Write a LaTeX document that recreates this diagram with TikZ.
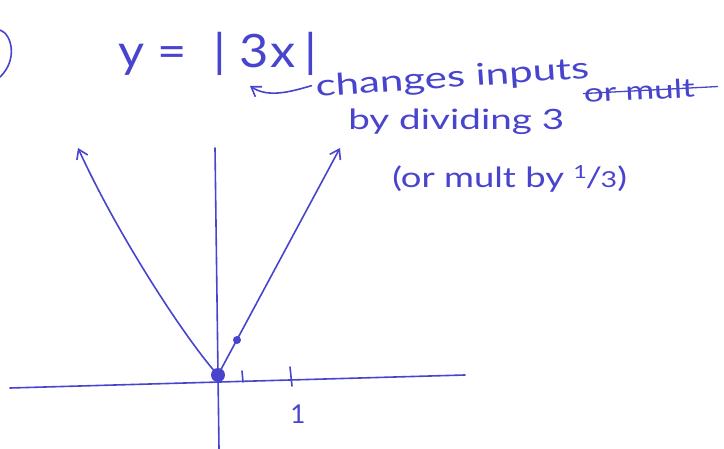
\documentclass[tikz,border=0pt]{standalone}
\usepackage{fontspec}
\setmainfont{Lato}
\usetikzlibrary{arrows.meta}
\definecolor{ink}{RGB}{72,68,205}
\begin{document}
\begin{tikzpicture}[x=1pt,y=-1pt,
  pen/.style={draw=ink,line width=1.6pt,line cap=round,line join=round},
  hand/.style={text=ink,inner sep=0pt,anchor=base west},
  tip/.style={-{Straight Barb[length=9pt,width=12pt,line width=1.6pt]}}]
\useasboundingbox (0,0) rectangle (724,449);
% circled number (cut off)
\draw[pen] (0,30) .. controls (12,34) and (18,60) .. (0,77);
% equation
\node[hand,font=\fontsize{46}{46}\selectfont,xscale=1.1] (eq) at (118,68)
  {y\hspace{12pt}=\hspace{24pt}|\hspace{12pt}3\hspace{2pt}x\hspace{8pt}|};
% annotation
\node[hand,font=\fontsize{30}{30}\selectfont,rotate=4,xscale=1.4] (t1) at (316,97) {changes inputs};
\node[hand,font=\fontsize{28}{28}\selectfont,xscale=1.38] (t2) at (348,130) {by dividing 3};
\node[hand,font=\fontsize{26}{26}\selectfont,rotate=3,xscale=1.35] (t3) at (584,103) {or mult};
\draw[pen,line width=1.3pt] (t3.west) -- ++(134,-7);
\node[hand,font=\fontsize{28}{28}\selectfont,xscale=1.3] (t4) at (392,188)
  {(or mult by {\fontsize{18}{18}\selectfont\raisebox{9pt}{1}}\kern-1pt/\kern-1pt{\fontsize{22}{22}\selectfont 3})};
\coordinate (ah) at (250,86);
\draw[pen,tip] (t1.west) ++(-4,-3) .. controls (290,92) and (268,98) .. (ah);
% axes
\coordinate (o) at (218,375);
\coordinate (xl) at (10,388);
\coordinate (xr) at (465,375);
\coordinate (yt) at (215,148);
\coordinate (yb) at (219,449);
\draw[pen] (xl) -- (xr);
\draw[pen] (yt) -- (yb);
% graph
\coordinate (la) at (78,148);
\coordinate (ra) at (340,148);
\draw[pen,tip] (o) .. controls (190,345) and (120,240) .. (la);
\draw[pen,tip] (o) -- (ra);
% ticks and dots
\draw[pen] (242,371) -- (243,382);
\draw[pen] (290,367) -- (292,386);
\node[hand,anchor=center,font=\fontsize{26}{26}\selectfont] (one) at (298,414) {1};
\fill[ink] (o) circle (7);
\draw[ink,line width=1pt] (o) circle (4);
\fill[ink] (237,340) circle (4);
\end{tikzpicture}
\end{document}
